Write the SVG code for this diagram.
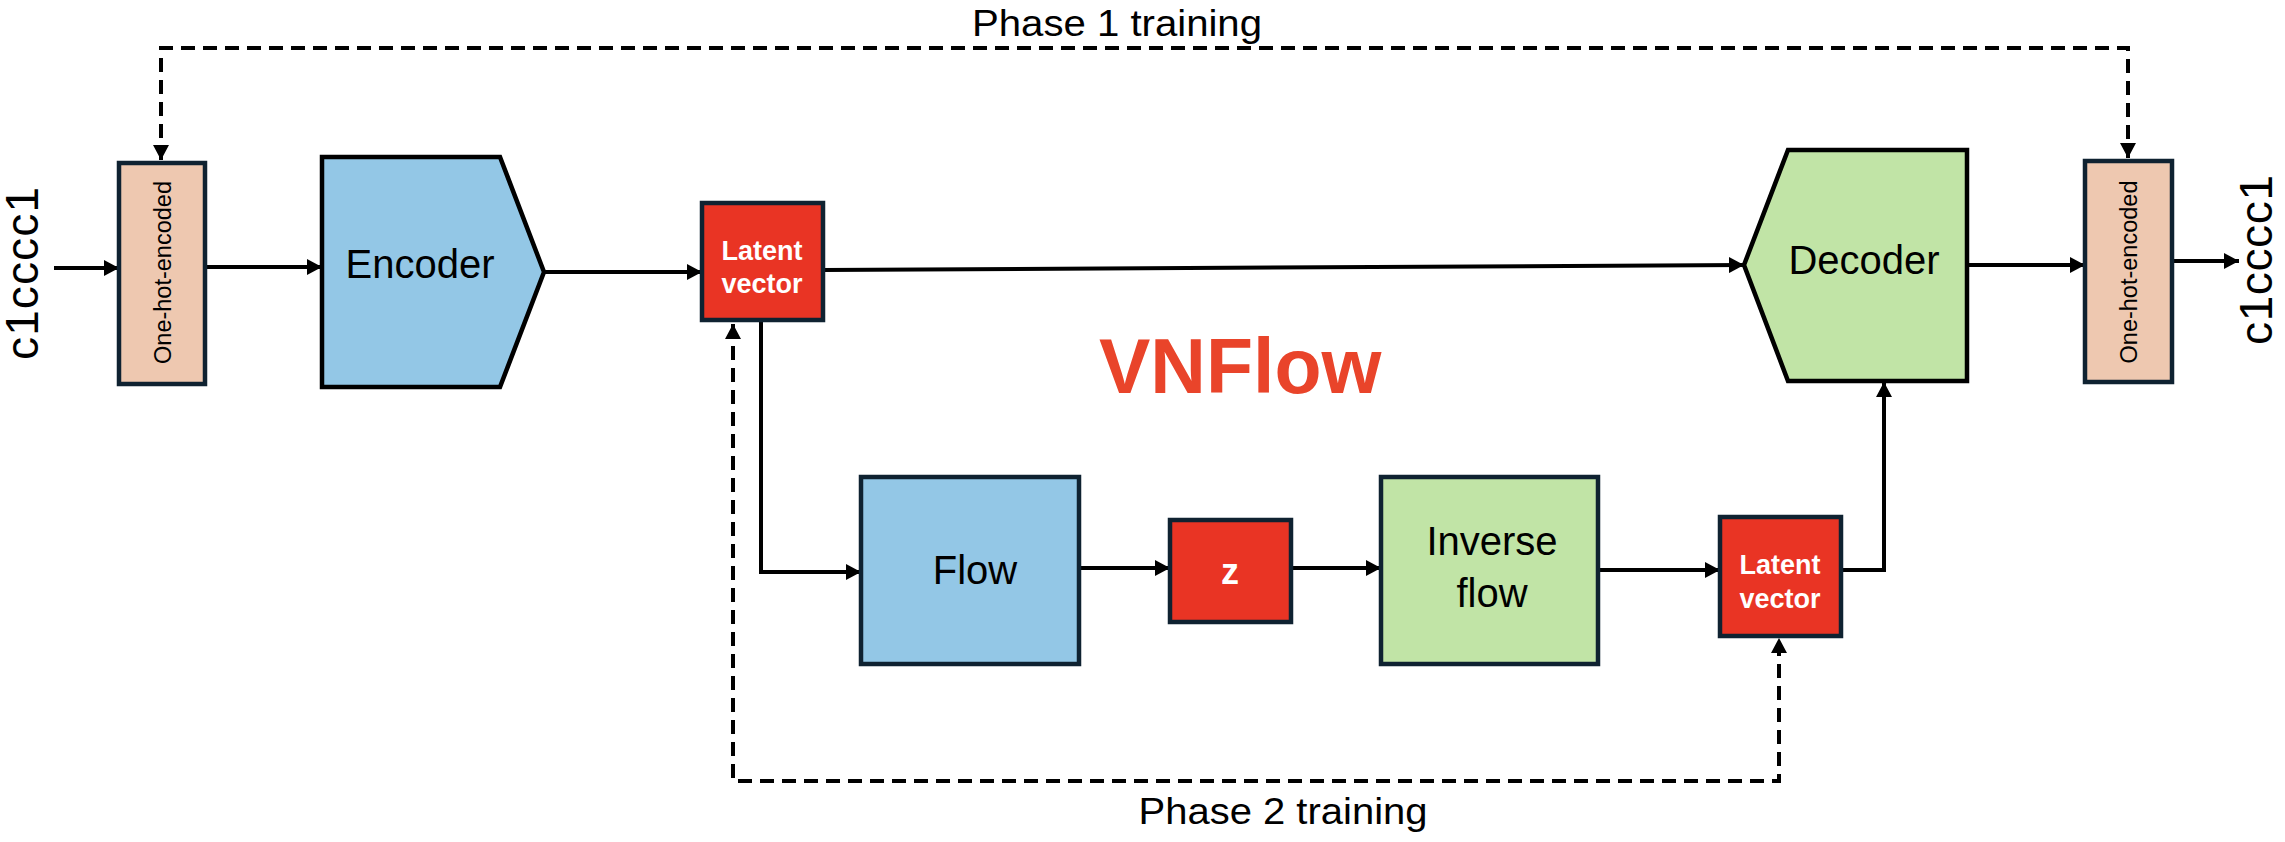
<svg xmlns="http://www.w3.org/2000/svg" width="2285" height="842" viewBox="0 0 2285 842">
<style>
.bg{fill:#ffffff}
.onehot{fill:#EEC8B0;stroke:#0F2231;stroke-width:4.5}
.blue{fill:#93C7E6;stroke:#000;stroke-width:4.5}
.green{fill:#C1E4A6;stroke:#000;stroke-width:4.5}
.bluebox{fill:#93C7E6;stroke:#0F2231;stroke-width:4.5}
.greenbox{fill:#C1E4A6;stroke:#0F2231;stroke-width:4.5}
.red{fill:#E93424;stroke:#0F2231;stroke-width:4.5}
.t{font-family:"Liberation Sans",Arial,sans-serif;fill:#000}
.lab{font-size:40px;text-anchor:middle}
.wb{font-family:"Liberation Sans",Arial,sans-serif;font-weight:bold;fill:#fff;text-anchor:middle}
.oh{font-size:23.5px;text-anchor:middle}
.smi{font-size:46px;text-anchor:middle}
.ph{font-size:37px;text-anchor:middle}
.c{fill:none;stroke:#000;stroke-width:4}
.d{fill:none;stroke:#000;stroke-width:4;stroke-dasharray:14 8}
</style>
<defs>
<marker id="ah" markerUnits="userSpaceOnUse" markerWidth="15" markerHeight="16" refX="15" refY="8" orient="auto-start-reverse" viewBox="0 0 15 16">
<path d="M0,0 L15,8 L0,16 z" fill="#000"/>
</marker>
</defs>
<rect class="bg" x="0" y="0" width="2285" height="842"/>

<g id="connectors">
<path class="c" d="M54,268 L119,268" marker-end="url(#ah)"/>
<path class="c" d="M205,267 L322,267" marker-end="url(#ah)"/>
<path class="c" d="M544,272 L702,272" marker-end="url(#ah)"/>
<path class="c" d="M823,270 L1744,265" marker-end="url(#ah)"/>
<path class="c" d="M1967,265 L2085,265" marker-end="url(#ah)"/>
<path class="c" d="M2172,261 L2239,261" marker-end="url(#ah)"/>
<path class="c" d="M761,320 L761,572 L861,572" marker-end="url(#ah)"/>
<path class="c" d="M1079,568 L1170,568" marker-end="url(#ah)"/>
<path class="c" d="M1291,568 L1381,568" marker-end="url(#ah)"/>
<path class="c" d="M1598,570 L1720,570" marker-end="url(#ah)"/>
<path class="c" d="M1841,570 L1884,570 L1884,382" marker-end="url(#ah)"/>
<path class="d" d="M161,160 L161,48 L2128,48 L2128,158" marker-start="url(#ah)" marker-end="url(#ah)"/>
<path class="d" d="M733,324 L733,781 L1779,781 L1779,638" marker-start="url(#ah)" marker-end="url(#ah)"/>
</g>

<g id="input-smiles">
<text class="t smi" transform="translate(38,273.5) rotate(-90)" textLength="173" lengthAdjust="spacing">c1cccc1</text>
</g>
<g id="onehot-in">
<rect class="onehot" x="119" y="163" width="86" height="221"/>
<text class="t oh" transform="translate(171,272.5) rotate(-90)">One-hot-encoded</text>
</g>
<g id="encoder">
<polygon class="blue" points="322,157 500,157 544,272 500,387 322,387"/>
<text class="t lab" x="420" y="278">Encoder</text>
</g>
<g id="latent1">
<rect class="red" x="702" y="203" width="121" height="117"/>
<text class="wb" x="762" y="260" font-size="27">Latent</text>
<text class="wb" x="762" y="293" font-size="27">vector</text>
</g>
<g id="title">
<text x="1099" y="393" font-family="Liberation Sans, Arial, sans-serif" font-weight="bold" font-size="77" fill="#E9442A">VNFlow</text>
</g>
<g id="flow">
<rect class="bluebox" x="861" y="477" width="218" height="187"/>
<text class="t lab" x="975" y="584">Flow</text>
</g>
<g id="z">
<rect class="red" x="1170" y="520" width="121" height="102"/>
<text class="wb" x="1230" y="584" font-size="36">z</text>
</g>
<g id="inverse-flow">
<rect class="greenbox" x="1381" y="477" width="217" height="187"/>
<text class="t lab" x="1492" y="555">Inverse</text>
<text class="t lab" x="1492" y="607">flow</text>
</g>
<g id="latent2">
<rect class="red" x="1720" y="517" width="121" height="119"/>
<text class="wb" x="1780" y="574" font-size="27">Latent</text>
<text class="wb" x="1780" y="608" font-size="27">vector</text>
</g>
<g id="decoder">
<polygon class="green" points="1744,265 1788,150 1967,150 1967,381 1788,381"/>
<text class="t lab" x="1864" y="274">Decoder</text>
</g>
<g id="onehot-out">
<rect class="onehot" x="2085" y="161" width="87" height="221"/>
<text class="t oh" transform="translate(2137,272) rotate(-90)">One-hot-encoded</text>
</g>
<g id="output-smiles">
<text class="t smi" transform="translate(2272,260) rotate(-90)" textLength="170" lengthAdjust="spacing">c1cccc1</text>
</g>
<g id="labels">
<text class="t ph" x="1117" y="36" textLength="290" lengthAdjust="spacingAndGlyphs">Phase 1 training</text>
<text class="t ph" x="1283" y="824" textLength="289" lengthAdjust="spacingAndGlyphs">Phase 2 training</text>
</g>
</svg>
